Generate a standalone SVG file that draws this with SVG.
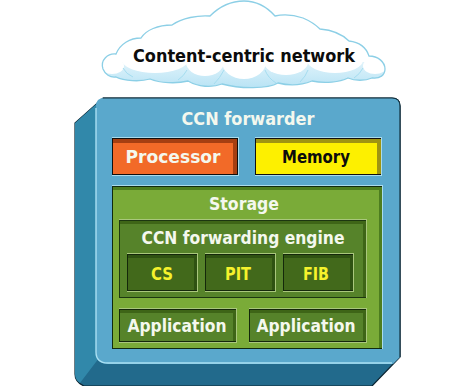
<svg xmlns="http://www.w3.org/2000/svg" width="474" height="386" viewBox="0 0 474 386">
  <style>
    text { font-family: "DejaVu Sans", "Liberation Sans", sans-serif; font-weight: bold; text-anchor: middle; }
    .white { fill: #f4f8ee; }
    .yellow { fill: #f6f22c; }
    .ink { fill: #0c0c0c; }
    .rim { fill: #a9dcec; }
    .green-rim { fill: #a9c77c; }
    .lobe { fill: #ffffff; }
    .crease { fill: none; stroke: #a4dcef; stroke-width: 1; }
  </style>
  <defs>
    <linearGradient id="cloudShade" x1="0" y1="0" x2="0" y2="1">
      <stop offset="0" stop-color="#e2f4fb"/>
      <stop offset="1" stop-color="#b5e2f4"/>
    </linearGradient>
    <clipPath id="cloudClip">
      <path d="M103 69 C100 60 108 53 116 54 C120 44 130 38 141 38 C146 30 158 25 172 25 C182 18 198 15 210 16 C220 6 232 1 244 1 C256 1 267 7 275 16 C284 14 294 15 303 18 C310 21 316 25 320 29 C332 30 342 34 349 41 C358 42 366 47 369 56 C378 56 385 62 385 69 C385 75 380 79 372 78 C365 81 355 81 348 78 C340 82 325 84 312 81 C302 85 290 86 278 83 C268 89 240 89 222 84 C212 88 198 87 188 81 C176 84 160 83 150 79 C140 82 124 81 116 77 C110 78 105 74 103 69 Z"/>
    </clipPath>
  </defs>

  <g id="cloud">
    <path d="M103 69 C100 60 108 53 116 54 C120 44 130 38 141 38 C146 30 158 25 172 25 C182 18 198 15 210 16 C220 6 232 1 244 1 C256 1 267 7 275 16 C284 14 294 15 303 18 C310 21 316 25 320 29 C332 30 342 34 349 41 C358 42 366 47 369 56 C378 56 385 62 385 69 C385 75 380 79 372 78 C365 81 355 81 348 78 C340 82 325 84 312 81 C302 85 290 86 278 83 C268 89 240 89 222 84 C212 88 198 87 188 81 C176 84 160 83 150 79 C140 82 124 81 116 77 C110 78 105 74 103 69 Z" fill="#ffffff"/>
    <g clip-path="url(#cloudClip)">
      <rect x="100" y="60" width="288" height="30" fill="url(#cloudShade)"/>
      <rect x="100" y="0" width="288" height="62" fill="#ffffff"/>
      <ellipse class="lobe" cx="112" cy="66" rx="12" ry="8"/>
      <ellipse class="lobe" cx="155" cy="60" rx="33" ry="13"/>
      <ellipse class="lobe" cx="205" cy="62" rx="19" ry="14"/>
      <ellipse class="lobe" cx="244" cy="62" rx="22" ry="17"/>
      <ellipse class="lobe" cx="286" cy="62" rx="22" ry="13"/>
      <ellipse class="lobe" cx="335" cy="60" rx="28" ry="13"/>
      <ellipse class="lobe" cx="375" cy="66" rx="12" ry="8"/>
      <!-- creases where the lobes meet -->
      <path class="crease" d="M123 68 Q126 74 133 77 M187 70 Q184 76 178 80 M224 70 Q220 78 214 84 M265 70 Q268 78 276 83 M308 70 Q306 76 300 82 M363 68 Q360 74 354 78"/>
    </g>
    <path d="M103 69 C100 60 108 53 116 54 C120 44 130 38 141 38 C146 30 158 25 172 25 C182 18 198 15 210 16 C220 6 232 1 244 1 C256 1 267 7 275 16 C284 14 294 15 303 18 C310 21 316 25 320 29 C332 30 342 34 349 41 C358 42 366 47 369 56 C378 56 385 62 385 69 C385 75 380 79 372 78 C365 81 355 81 348 78 C340 82 325 84 312 81 C302 85 290 86 278 83 C268 89 240 89 222 84 C212 88 198 87 188 81 C176 84 160 83 150 79 C140 82 124 81 116 77 C110 78 105 74 103 69 Z" fill="none" stroke="#8ccfe6" stroke-width="1.3"/>
    <text x="244" y="62" font-size="17" class="ink" textLength="222" lengthAdjust="spacingAndGlyphs">Content-centric network</text>
  </g>

  <g id="ccn-forwarder">
    <!-- outer silhouette with bevelled sides -->
    <path d="M103 98 L392 98 Q400 98 400 106 L400 357 L372 386 L84 386 Q75 382 75 374 L75 123 Z" fill="#226a8c" stroke="#0d2633" stroke-width="1.2"/>
    <path d="M103 98 L96 108 L99 358 L80 383 Q75 380 75 374 L75 123 Z" fill="#3188aa"/>
    <path d="M96 106 Q96 98 104 98 L392 98 Q400 98 400 106 L400 357 L393 364 L108 364 Q96 364 96 352 Z" fill="#5aa8cc"/>
    <path d="M96 108 L96 352 Q96 363 108 363 L392 363" fill="none" stroke="#a9dff2" stroke-width="1.4"/>
    <path d="M103 98 L392 98 Q400 98 400 106 L400 357" fill="none" stroke="#12303e" stroke-width="1.2"/>
    <text x="248" y="125" font-size="17" class="white" textLength="133" lengthAdjust="spacingAndGlyphs">CCN forwarder</text>
  </g>

  <g id="processor">
    <rect x="112" y="137" width="127" height="39" class="rim"/>
    <rect x="112" y="138" width="126" height="37" fill="#101010"/>
    <rect x="113" y="139" width="124" height="35" fill="#a53f12"/>
    <rect x="113" y="143" width="120" height="31" fill="#f26a28"/>
    <text x="173" y="163" font-size="17" class="white" textLength="95" lengthAdjust="spacingAndGlyphs">Processor</text>
  </g>

  <g id="memory">
    <rect x="255" y="137" width="127" height="39" class="rim"/>
    <rect x="255" y="138" width="126" height="37" fill="#101010"/>
    <rect x="256" y="139" width="125" height="35" fill="#9f9412"/>
    <rect x="256" y="143" width="121" height="31" fill="#fdf000"/>
    <text x="316" y="163" font-size="17" class="ink" textLength="68" lengthAdjust="spacingAndGlyphs">Memory</text>
  </g>

  <g id="storage">
    <rect x="112" y="185" width="271" height="164" class="rim"/>
    <rect x="112" y="186" width="270" height="163" fill="#102a10"/>
    <rect x="113" y="187" width="269" height="161" fill="#4d7d1f"/>
    <rect x="113" y="190" width="266" height="158" fill="#7aab38"/>
    <text x="244" y="210" font-size="17" class="white" textLength="70" lengthAdjust="spacingAndGlyphs">Storage</text>
  </g>

  <g id="forwarding-engine">
    <rect x="119" y="219" width="248" height="79" class="green-rim"/>
    <rect x="119" y="220" width="247" height="78" fill="#1c3610"/>
    <rect x="120" y="221" width="246" height="76" fill="#3e6517"/>
    <rect x="120" y="224" width="243" height="73" fill="#56832a"/>
    <text x="243" y="244" font-size="17" class="white" textLength="203" lengthAdjust="spacingAndGlyphs">CCN forwarding engine</text>
  </g>

  <g id="cs">
    <rect x="127" y="253" width="71" height="39" class="green-rim"/>
    <rect x="127" y="254" width="70" height="37" fill="#14280a"/>
    <rect x="128" y="255" width="69" height="35" fill="#2f5212"/>
    <rect x="128" y="258" width="66" height="32" fill="#42691b"/>
    <text x="162" y="280" font-size="17" class="yellow" textLength="22" lengthAdjust="spacingAndGlyphs">CS</text>
  </g>

  <g id="pit">
    <rect x="205" y="253" width="71" height="39" class="green-rim"/>
    <rect x="205" y="254" width="70" height="37" fill="#14280a"/>
    <rect x="206" y="255" width="69" height="35" fill="#2f5212"/>
    <rect x="206" y="258" width="66" height="32" fill="#42691b"/>
    <text x="238" y="280" font-size="17" class="yellow" textLength="26" lengthAdjust="spacingAndGlyphs">PIT</text>
  </g>

  <g id="fib">
    <rect x="283" y="253" width="71" height="39" class="green-rim"/>
    <rect x="283" y="254" width="70" height="37" fill="#14280a"/>
    <rect x="284" y="255" width="69" height="35" fill="#2f5212"/>
    <rect x="284" y="258" width="66" height="32" fill="#42691b"/>
    <text x="316" y="280" font-size="17" class="yellow" textLength="26" lengthAdjust="spacingAndGlyphs">FIB</text>
  </g>

  <g id="application-1">
    <rect x="119" y="308" width="118" height="35" class="green-rim"/>
    <rect x="119" y="309" width="117" height="33" fill="#14280a"/>
    <rect x="120" y="310" width="116" height="31" fill="#3e6517"/>
    <rect x="120" y="313" width="113" height="28" fill="#56832a"/>
    <text x="177" y="332" font-size="17" class="white" textLength="99" lengthAdjust="spacingAndGlyphs">Application</text>
  </g>

  <g id="application-2">
    <rect x="249" y="308" width="118" height="35" class="green-rim"/>
    <rect x="249" y="309" width="117" height="33" fill="#14280a"/>
    <rect x="250" y="310" width="116" height="31" fill="#3e6517"/>
    <rect x="250" y="313" width="113" height="28" fill="#56832a"/>
    <text x="306" y="332" font-size="17" class="white" textLength="99" lengthAdjust="spacingAndGlyphs">Application</text>
  </g>

  <!-- the parts nest inside one another, so no connector lines are drawn -->
  <g id="connectors"/>
</svg>
